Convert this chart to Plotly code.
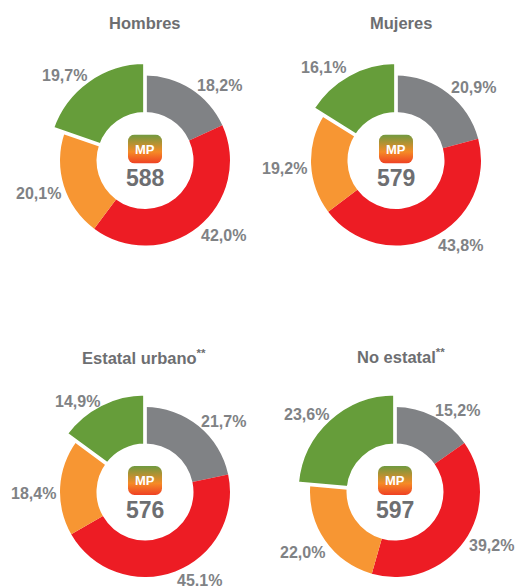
import base64
import plotly.graph_objects as go

W, H = 515, 586

titles = ["Hombres", "Mujeres", "Estatal urbano<sup>**</sup>", "No estatal<sup>**</sup>"]
scores = [588, 579, 576, 597]
gris = [18.2, 20.9, 21.7, 15.2]
rojo = [42.0, 43.8, 45.1, 39.2]
naranja = [20.1, 19.2, 18.4, 22.0]
verde = [19.7, 16.1, 14.9, 23.6]
colors = ["#808285", "#ED1C24", "#F79633", "#669D3A"]

# layout (pixels)
centers = [(145, 160.5), (396, 160.5), (145, 492), (395, 492)]
title_pos = [(145, 23), (401, 23), (144, 357), (401, 356)]
label_pos = [
    [(219, 85), (223, 235), (38, 193), (64, 76)],
    [(473, 87), (460, 245), (284, 168), (323, 68)],
    [(223, 421), (199, 580), (33, 493), (77, 401)],
    [(457, 410), (491, 545), (302, 552), (306, 414)],
]
R_OUT, R_IN = 85, 48.5
G_OUT, G_IN, G_LINE = 98.3, 46.6, 3.7
RING_BOX, GREEN_BOX = 90, 102

FONT = "Liberation Sans, Arial, sans-serif"
TXT, TITLE = "#808285", "#6D6E71"

svg = ('<svg xmlns="http://www.w3.org/2000/svg" width="68" height="58">'
       '<defs><linearGradient id="g" x1="0" y1="0" x2="0" y2="1">'
       '<stop offset="0" stop-color="#6F9A40"/><stop offset="0.6" stop-color="#F58A26"/>'
       '<stop offset="1" stop-color="#EF4023"/></linearGradient></defs>'
       '<rect width="68" height="58" rx="13" fill="url(#g)"/></svg>')
icon = "data:image/svg+xml;base64," + base64.b64encode(svg.encode()).decode()

fig = go.Figure()
layout = dict(width=W, height=H, margin=dict(l=0, r=0, t=0, b=0),
              paper_bgcolor="white", showlegend=False)
ann, imgs = [], []


def txt(x, y, s, size, color):
    ann.append(dict(x=x / W, y=1 - y / H, xref="paper", yref="paper", text=f"<b>{s}</b>", showarrow=False,
                    xanchor="center", yanchor="middle", font=dict(family=FONT, size=size, color=color)))


def polar(name, dom_x, dom_y, sector, rmax):
    layout[name] = dict(
        domain=dict(x=[dom_x[0] / W, dom_x[1] / W], y=[1 - dom_y[1] / H, 1 - dom_y[0] / H]),
        sector=sector, bgcolor="rgba(0,0,0,0)", barmode="overlay",
        radialaxis=dict(visible=False, range=[0, rmax]),
        angularaxis=dict(visible=False, direction="clockwise", rotation=90),
    )


for i in range(4):
    cx, cy = centers[i]
    vals = [gris[i], rojo[i], naranja[i], verde[i]]
    total = sum(vals)
    spans = [v / total * 360 for v in vals]
    starts = [sum(spans[:k]) for k in range(4)]
    mids = [s + w / 2 for s, w in zip(starts, spans)]
    ring, green = f"polar{2 * i + 1 if i else ''}", f"polar{2 * i + 2}"
    polar(ring, (cx - RING_BOX, cx + RING_BOX), (cy - RING_BOX, cy + RING_BOX), [0, 360], RING_BOX)
    polar(green, (cx - GREEN_BOX, cx + GREEN_BOX / 2), (cy - GREEN_BOX, cy), [60, 180], GREEN_BOX)
    fig.add_trace(go.Barpolar(subplot=ring, theta=mids[:3], width=spans[:3], base=[R_IN] * 3,
                              r=[R_OUT - R_IN] * 3, marker=dict(color=colors[:3], line=dict(width=0)),
                              hoverinfo="skip"))
    fig.add_trace(go.Barpolar(subplot=green, theta=mids[3:], width=spans[3:], base=[G_IN],
                              r=[G_OUT - G_IN], marker=dict(color=colors[3], line=dict(width=G_LINE, color="white")),
                              hoverinfo="skip"))
    txt(*title_pos[i], titles[i], 16.5, TITLE)
    for (lx, ly), v in zip(label_pos[i], vals):
        txt(lx, ly, f"{v:.1f}%".replace(".", ","), 16, TXT)
    txt(cx, cy - 11.5, "MP", 13, "white")
    txt(cx, cy + 18, scores[i], 23, TITLE)
    imgs.append(dict(source=icon, xref="paper", yref="paper", x=cx / W, y=1 - (cy - 11.5) / H,
                     sizex=34 / W, sizey=29 / H, xanchor="center", yanchor="middle",
                     sizing="stretch", layer="above"))

fig.update_layout(annotations=ann, images=imgs, **layout)
fig.write_html("out.html", config={"displayModeBar": False}, post_script="document.body.style.margin='0';")
